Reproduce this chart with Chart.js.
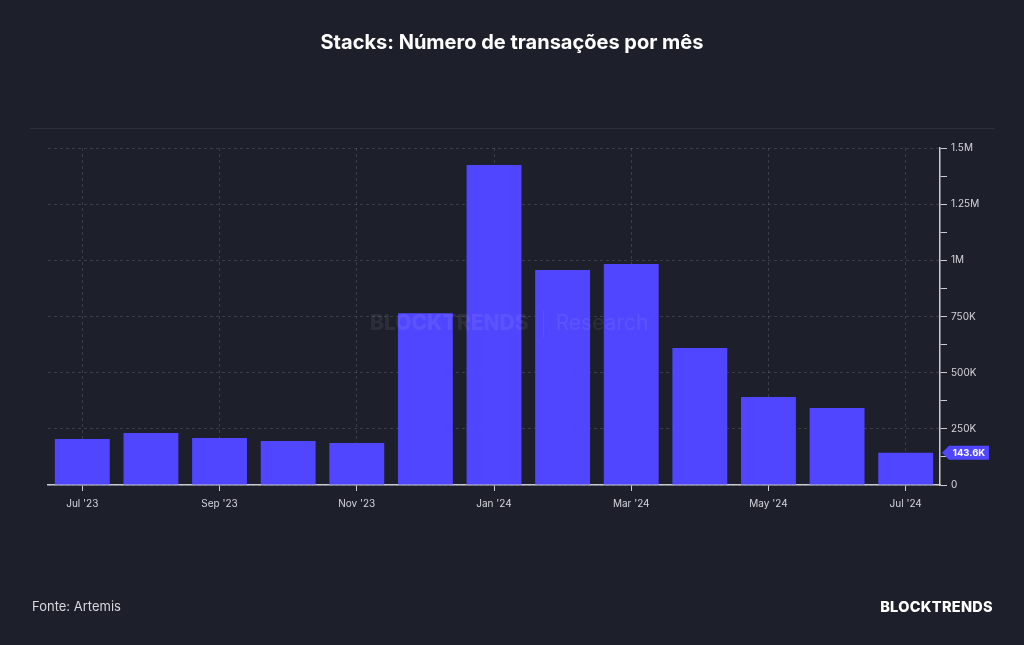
<!DOCTYPE html>
<html>
<head>
<meta charset="utf-8">
<script src="https://cdn.jsdelivr.net/npm/chart.js@4/dist/chart.umd.min.js"></script>
<style>
  html,body{margin:0;padding:0;background:#1d1f2b;}
  #wrap{position:relative;width:1024px;height:645px;background:#1d1f2b;font-family:Inter,"Noto Sans",sans-serif;overflow:hidden;}
  #title{position:absolute;top:30px;left:0;width:1024px;text-align:center;color:#ffffff;font-weight:700;font-size:20px;}
  #sep{position:absolute;top:128px;left:30px;width:965px;height:1px;background:#2b2e3b;}
  #src{position:absolute;top:598px;left:32px;color:#d8d8de;font-size:13px;}
  #brand{position:absolute;top:598px;right:31px;color:#ffffff;font-size:14.5px;font-weight:800;letter-spacing:0.3px;}
  #wm{position:absolute;top:310px;left:370px;width:300px;color:rgba(255,255,255,0.07);font-size:21px;white-space:nowrap;z-index:3;pointer-events:none;}
  #wm b{font-weight:800;}
  #wm span.bar{display:inline-block;width:1px;height:26px;background:rgba(255,255,255,0.07);vertical-align:middle;margin:0 12px 0 14px;}
  #c{position:absolute;left:0;top:0;}
</style>
</head>
<body>
<div id="wrap">
  <canvas id="c" width="1024" height="645"></canvas>
  <div id="title">Stacks: Número de transações por mês</div>
  <div id="sep"></div>
  <div id="wm"><b>BLOCKTRENDS</b><span class="bar"></span>Research</div>
  <div id="src">Fonte: Artemis</div>
  <div id="brand">BLOCKTRENDS</div>
</div>
<script>
const categories = ["Jul '23","Aug '23","Sep '23","Oct '23","Nov '23","Dec '23","Jan '24","Feb '24","Mar '24","Apr '24","May '24","Jun '24","Jul '24"];
const transactions = [205000, 231000, 209000, 196000, 187000, 765000, 1424000, 957000, 984000, 610000, 392000, 343000, 143600];
const yTickLabels = {0:"0",250000:"250K",500000:"500K",750000:"750K",1000000:"1M",1250000:"1.25M",1500000:"1.5M"};

const BAR = '#5046ff';
const GRID = 'rgba(255,255,255,0.13)';
const AXIS = '#c9cad2';

const lastBadge = {
  id:'lastBadge',
  afterDraw(chart){
    const ys = chart.scales.y;
    const v = transactions[transactions.length-1];
    const y = ys.getPixelForValue(v);
    const x = chart.chartArea.right + 2;
    const ctx = chart.ctx;
    ctx.save();
    ctx.fillStyle = BAR;
    ctx.beginPath();
    ctx.moveTo(x, y);
    ctx.lineTo(x+7, y-7);
    ctx.lineTo(x+47, y-7);
    ctx.lineTo(x+47, y+7);
    ctx.lineTo(x+7, y+7);
    ctx.closePath();
    ctx.fill();
    ctx.fillStyle = '#ffffff';
    ctx.font = '700 9.5px Inter, sans-serif';
    ctx.textAlign = 'center';
    ctx.textBaseline = 'middle';
    ctx.fillText((v/1000).toFixed(1)+'K', x+27, y+0.5);
    ctx.restore();
  }
};

new Chart(document.getElementById('c'), {
  type:'bar',
  data:{labels:categories, datasets:[{data:transactions, backgroundColor:BAR, borderWidth:0, categoryPercentage:1.0, barPercentage:0.8}]},
  options:{
    responsive:false, animation:false,
    layout:{padding:{left:48, top:148, right:0, bottom:0}},
    plugins:{legend:{display:false}, tooltip:{enabled:false}},
    scales:{
      x:{
        offset:true,
        grid:{
          offset:false,
          color:(c)=> (c.index%2===0 ? GRID : 'rgba(0,0,0,0)'),
          tickColor:(c)=> (c.index%2===0 ? AXIS : 'rgba(0,0,0,0)'),
          tickLength:6, lineWidth:1
        },
        border:{display:true, color:AXIS, width:1.5, dash:[3,3]},
        ticks:{
          autoSkip:false, maxRotation:0, padding:7,
          color:'#d4d5dc', font:{family:'Inter', size:10},
          callback:function(v,i){ return i%2===0 ? categories[i] : ''; }
        },
        afterFit:(s)=>{ s.height = 160; }
      },
      y:{
        position:'right', min:0, max:1500000,
        grid:{
          color:(c)=> (c.tick && c.tick.value%250000===0 ? GRID : 'rgba(0,0,0,0)'),
          tickColor:AXIS, tickLength:7, lineWidth:1
        },
        border:{display:true, color:AXIS, width:1.5, dash:[3,3]},
        ticks:{
          stepSize:125000, padding:4,
          color:'#d4d5dc', font:{family:'Inter', size:10},
          callback:(v)=> (yTickLabels[v] !== undefined ? yTickLabels[v] : '')
        },
        afterFit:(s)=>{ s.width = 84; }
      }
    }
  },
  plugins:[lastBadge]
});
</script>
</body>
</html>
